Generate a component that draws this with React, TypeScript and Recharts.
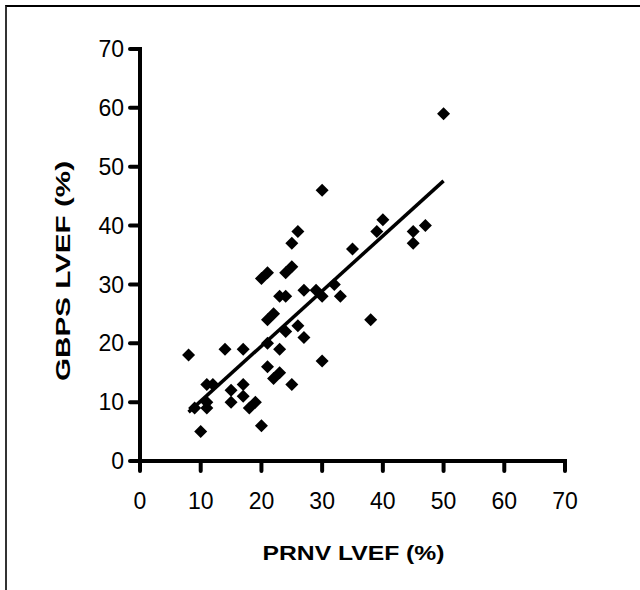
import { ScatterChart, Scatter, XAxis, YAxis, Label, ReferenceLine } from 'recharts';

// PRNV LVEF (x) vs GBPS LVEF (y)
const prnv = [
  50, 30, 40, 39, 47, 45, 45, 35, 26, 25, 25, 24, 21, 20, 32, 27, 29, 30, 33, 23, 24, 38, 22, 21, 26,
  24, 27, 21, 23, 14, 17, 8, 30, 21, 23, 22, 25, 11, 12, 17, 15, 17, 15, 19, 18, 9, 11, 11, 10, 20,
];
const gbps = [
  59, 46, 41, 39, 40, 39, 37, 36, 39, 37, 33, 32, 32, 31, 30, 29, 29, 28, 28, 28, 28, 24, 25, 24, 23,
  22, 21, 20, 19, 19, 19, 18, 17, 16, 15, 14, 13, 13, 13, 13, 12, 11, 10, 10, 9, 9, 10, 9, 5, 6,
];
const fitX = [8, 50];
const fitY = [8.3, 47.6];
const ticks = [0, 10, 20, 30, 40, 50, 60, 70];

const points = prnv.map((x, i) => ({ x, y: gbps[i] }));
const fitLine = fitX.map((x, i) => ({ x, y: fitY[i] }));

const font = '"Liberation Sans", Arial, sans-serif';
const TICK_LEN = 10;
const X_GAP = 22;
const Y_GAP = 6;

// tick mark + label together, so the mark can be drawn thick
const XTick = (props: any) => {
  const { x, y, payload } = props;
  const axisY = y - TICK_LEN - X_GAP;
  return (
    <g>
      <line x1={x} x2={x} y1={axisY} y2={axisY + TICK_LEN} stroke="#000" strokeWidth={4} strokeLinecap="round" />
      <text x={x} y={y} dy="0.71em" textAnchor="middle" fontFamily={font} fontSize={23} fill="#000">
        {payload.value}
      </text>
    </g>
  );
};

const YTick = (props: any) => {
  const { x, y, payload } = props;
  const axisX = x + TICK_LEN + Y_GAP;
  return (
    <g>
      <line x1={axisX - TICK_LEN} x2={axisX} y1={y} y2={y} stroke="#000" strokeWidth={4} strokeLinecap="round" />
      <text x={x} y={y} dy="0.355em" textAnchor="end" fontFamily={font} fontSize={23} fill="#000">
        {payload.value}
      </text>
    </g>
  );
};

const axisProps = {
  type: 'number' as const,
  domain: [0, 70],
  ticks,
  interval: 0 as const,
  axisLine: false,
  tickLine: false,
  tickSize: TICK_LEN,
};

const Diamond = (props: any) => {
  const { cx, cy } = props;
  const r = 6.5;
  return (
    <polygon
      points={`${cx},${cy - r} ${cx + r},${cy} ${cx},${cy + r} ${cx - r},${cy}`}
      fill="#000"
    />
  );
};

const YTitle = (props: any) => {
  const { viewBox } = props;
  const x = viewBox.x + 2;
  const y = viewBox.y + viewBox.height / 2 + 16;
  return (
    <text
      x={x}
      y={y}
      transform={`rotate(-90 ${x} ${y})`}
      textAnchor="middle"
      dominantBaseline="central"
      fontFamily={font}
      fontWeight="bold"
      fontSize={21}
      textLength={220}
      lengthAdjust="spacingAndGlyphs"
      fill="#000"
    >
      GBPS LVEF (%)
    </text>
  );
};

const XTitle = (props: any) => {
  const { viewBox } = props;
  const x = viewBox.x + viewBox.width / 2 + 1;
  const y = viewBox.y + 91;
  return (
    <text
      x={x}
      y={y}
      textAnchor="middle"
      dominantBaseline="central"
      fontFamily={font}
      fontWeight="bold"
      fontSize={21}
      textLength={182}
      lengthAdjust="spacingAndGlyphs"
      fill="#000"
    >
      PRNV LVEF (%)
    </text>
  );
};

export default function App() {
  return (
    <div style={{ position: 'absolute', left: 0, top: 0, width: 640, height: 590, background: '#fff' }}>
      <div
        style={{
          position: 'absolute',
          left: 5,
          top: 5,
          width: 635,
          height: 585,
          borderTop: '2px solid #000',
          borderLeft: '2px solid #333',
          boxSizing: 'border-box',
        }}
      />
      <div style={{ position: 'absolute', left: 0, top: 0 }}>
        <ScatterChart width={640} height={590} margin={{ top: 49, right: 75, bottom: 69, left: 60 }}>
          <XAxis {...axisProps} dataKey="x" height={60} tickMargin={X_GAP} tick={XTick}>
            <Label content={XTitle} />
          </XAxis>
          <YAxis {...axisProps} dataKey="y" width={80} tickMargin={Y_GAP} tick={YTick}>
            <Label content={YTitle} />
          </YAxis>
          <ReferenceLine x={0} stroke="#000" strokeWidth={4} strokeLinecap="square" />
          <ReferenceLine y={0} stroke="#000" strokeWidth={4} strokeLinecap="square" />
          <Scatter data={points} shape={Diamond} isAnimationActive={false} />
          <Scatter
            data={fitLine}
            line={{ stroke: '#000', strokeWidth: 3.5 }}
            shape={() => <g />}
            isAnimationActive={false}
          />
        </ScatterChart>
      </div>
    </div>
  );
}
